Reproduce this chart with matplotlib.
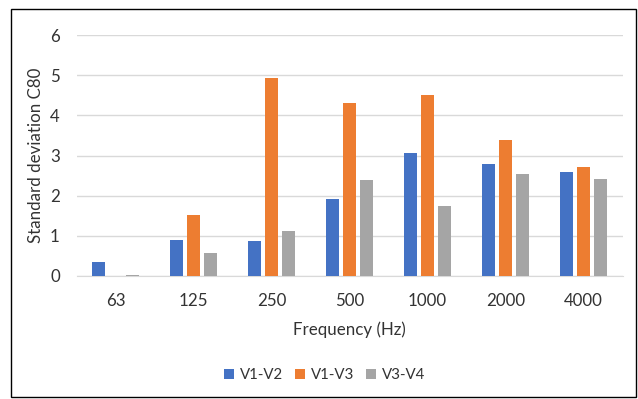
import matplotlib
matplotlib.use("Agg")
import matplotlib.pyplot as plt
from matplotlib.patches import Rectangle
import numpy as np

plt.rcParams['font.family'] = ['Lato', 'DejaVu Sans']

frequencies = ["63", "125", "250", "500", "1000", "2000", "4000"]
series_names = ["V1-V2", "V1-V3", "V3-V4"]
v1_v2 = [0.34, 0.90, 0.87, 1.92, 3.05, 2.78, 2.60]
v1_v3 = [0.01, 1.51, 4.92, 4.30, 4.50, 3.38, 2.72]
v3_v4 = [0.03, 0.57, 1.12, 2.38, 1.75, 2.53, 2.42]
colors = ["#4472C4", "#ED7D31", "#A5A5A5"]

W, H = 638, 399
fig = plt.figure(figsize=(W / 100, H / 100), dpi=100)

# outer chart frame
fig.patches.append(Rectangle((11 / W, 1 - 397 / H), (636 - 11) / W, (397 - 9) / H,
                             transform=fig.transFigure, fill=False,
                             edgecolor="black", linewidth=1.0))

ax = fig.add_axes([76.5 / W, 1 - 276 / H, (622.5 - 76.5) / W, (276 - 35) / H])

x = np.arange(len(frequencies))
width = 0.167
step = 0.222
for i, (name, vals) in enumerate(zip(series_names, [v1_v2, v1_v3, v3_v4])):
    ax.bar(x + (i - 1) * step, vals, width, color=colors[i], label=name, zorder=3)

fs = 12.2
ax.set_xlim(-0.5, len(frequencies) - 0.5)
ax.set_ylim(0, 6)
ax.set_yticks(range(0, 7))
ax.yaxis.grid(True, color="#D9D9D9", linewidth=1.0, zorder=0)
ax.set_axisbelow(True)
for s in ["top", "right", "left"]:
    ax.spines[s].set_visible(False)
ax.spines["bottom"].set_color("#D9D9D9")
ax.tick_params(axis="both", length=0, labelsize=fs, colors="#333333")
ax.tick_params(axis="y", pad=12)
ax.tick_params(axis="x", pad=12)
ax.set_xticks(x)
ax.set_xticklabels(frequencies)

ax.set_xlabel("Frequency (Hz)", fontsize=fs, color="#333333", labelpad=9)
ax.set_ylabel("Standard deviation C80", fontsize=fs, color="#333333", labelpad=4)

fig.legend(loc="center", bbox_to_anchor=(324.5 / W, 1 - 375 / H), ncol=3, frameon=False,
           fontsize=10.8, handlelength=0.68, handleheight=0.68, handletextpad=0.36,
           columnspacing=0.8, labelcolor="#333333")

fig.savefig("out.png", dpi=100)
